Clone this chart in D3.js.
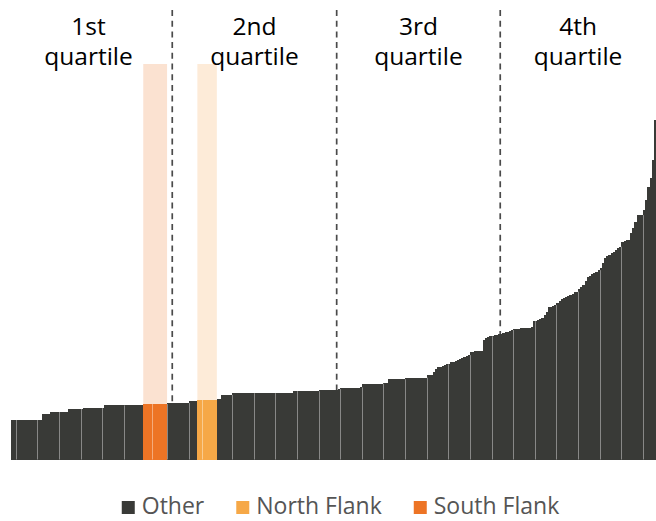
<!DOCTYPE html>
<html lang="en">
<head>
    <meta charset="UTF-8">
    <script src="https://d3js.org/d3.v7.min.js"></script>
    <title>Quartiles</title>
    <style>
        body { margin: 0; background: #fff; }
        svg { font-family: "Open Sans", "Noto Sans", sans-serif; display: block; }
    </style>
</head>
<body>
    <div id="chart"></div>
    <script>
        // sorted values, one per bar
        const values = [
            11.6, 11.6, 11.6, 11.6, 11.6, 11.6, 11.6, 11.6, 11.6, 11.6,
            11.6, 11.6, 11.6, 11.6, 13.5, 13.5, 13.5, 13.5, 14.0, 14.0,
            14.0, 14.0, 14.0, 14.0, 14.0, 14.0, 14.9, 14.9, 14.9, 14.9,
            14.9, 14.9, 14.9, 15.1, 15.1, 15.1, 15.1, 15.1, 15.1, 15.1,
            15.1, 15.1, 15.1, 15.9, 15.9, 15.9, 15.9, 15.9, 15.9, 15.9,
            15.9, 15.9, 15.9, 15.9, 15.9, 15.9, 15.9, 15.9, 15.9, 15.9,
            15.9, 16.3, 16.3, 16.3, 16.3, 16.3, 16.3, 16.3, 16.3, 16.3,
            16.3, 16.3, 16.6, 16.6, 16.6, 16.6, 16.6, 16.6, 16.6, 16.6,
            16.6, 16.6, 17.1, 17.1, 17.1, 17.1, 17.5, 17.5, 17.5, 17.5,
            17.5, 17.5, 17.5, 17.5, 17.5, 17.7, 17.7, 19.0, 19.0, 19.0,
            19.0, 19.0, 19.5, 19.5, 19.5, 19.5, 19.5, 19.5, 19.5, 19.5,
            19.5, 19.5, 19.5, 19.5, 19.5, 19.5, 19.5, 19.5, 19.5, 19.5,
            19.5, 19.5, 19.5, 19.5, 19.5, 19.5, 19.5, 19.5, 19.5, 19.5,
            20.1, 20.1, 20.1, 20.1, 20.1, 20.1, 20.1, 20.1, 20.1, 20.1,
            20.1, 20.1, 20.4, 20.4, 20.4, 20.4, 20.4, 20.4, 20.4, 20.4,
            20.4, 20.7, 21.0, 21.0, 21.0, 21.0, 21.0, 21.0, 21.0, 21.0,
            21.0, 21.2, 22.3, 22.3, 22.3, 22.3, 22.3, 22.3, 22.3, 22.3,
            22.3, 22.3, 22.6, 22.6, 23.6, 23.6, 23.6, 23.6, 23.6, 23.6,
            23.6, 23.6, 24.1, 24.1, 24.1, 24.1, 24.1, 24.1, 24.1, 24.1,
            24.1, 24.1, 24.8, 24.8, 24.8, 25.7, 26.6, 27.1, 27.3, 27.5,
            27.8, 28.0, 28.2, 28.7, 28.8, 29.0, 29.3, 29.6, 29.8, 30.1,
            30.4, 30.7, 31.5, 31.6, 31.8, 31.9, 32.0, 32.0, 35.1, 35.6,
            36.1, 36.2, 36.3, 36.5, 36.6, 36.8, 36.9, 37.2, 37.4, 37.5,
            37.8, 38.1, 38.4, 38.4, 38.5, 38.7, 38.8, 38.8, 38.8, 38.8,
            39.0, 40.7, 40.7, 41.0, 41.3, 41.6, 42.5, 43.4, 44.9, 45.0,
            45.1, 45.4, 45.9, 46.6, 47.1, 47.4, 47.8, 48.1, 48.4, 48.8,
            49.3, 49.4, 50.1, 50.7, 51.3, 52.5, 53.8, 54.1, 54.6, 54.8,
            55.1, 55.7, 56.2, 57.9, 59.3, 59.9, 60.1, 60.7, 61.1, 61.6,
            62.2, 62.6, 64.1, 64.3, 64.6, 64.6, 66.5, 68.0, 69.9, 71.9,
            71.9, 71.9, 73.4, 76.3, 80.2, 82.8, 88.1, 100
        ];

        // highlighted bars (indices into values)
        const southFlank = [61, 62, 63, 64, 65, 66, 67, 68, 69, 70, 71];
        const northFlank = [86, 87, 88, 89, 90, 91, 92, 93, 94];

        // quartile boundaries, in bar positions
        const quartileBreaks = [74.4, 150.4, 226.0];
        const quartileLabels = ["1st", "2nd", "3rd", "4th"];

        // faint separators, at these bar positions
        const gridIdx = [2, 12, 22, 32, 42, 52, 65, 72, 82, 88, 102, 112, 122, 132, 142,
            152, 162, 172, 182, 192, 202, 212, 222, 232, 242, 252, 262, 272, 282, 292];

        const legendItems = ["Other", "North Flank", "South Flank"];
        const colors = { "Other": "#393a37", "North Flank": "#f6a847", "South Flank": "#ed7425" };
        const paleColors = { "North Flank": "#fdebd8", "South Flank": "#fbe2d1" };

        const W = 656, H = 521;
        const baseY = 459.5;

        const svg = d3.select("#chart").append("svg")
            .attr("width", W).attr("height", H);

        const x = d3.scaleLinear().domain([0, values.length]).range([11.3, 656]);
        const y = d3.scaleLinear().domain([0, 100]).range([baseY, 119.5]);
        const step = x(1) - x(0);

        const groupOf = i => southFlank.includes(i) ? "South Flank"
            : northFlank.includes(i) ? "North Flank" : "Other";

        // pale highlight columns
        [["South Flank", southFlank], ["North Flank", northFlank]].forEach(([name, idx]) => {
            svg.append("rect")
                .attr("x", x(d3.min(idx)))
                .attr("width", x(d3.max(idx) + 1) - x(d3.min(idx)))
                .attr("y", 64)
                .attr("height", baseY - 64)
                .attr("fill", paleColors[name]);
        });

        // quartile dividers
        svg.selectAll(".divider")
            .data(quartileBreaks)
            .enter().append("line")
            .attr("class", "divider")
            .attr("x1", d => x(d)).attr("x2", d => x(d))
            .attr("y1", 10).attr("y2", baseY)
            .attr("stroke", "#4a4a4a")
            .attr("stroke-width", 1.7)
            .attr("stroke-dasharray", "6,4.7");

        // bars
        svg.selectAll(".bar")
            .data(values)
            .enter().append("rect")
            .attr("class", "bar")
            .attr("x", (d, i) => x(i))
            .attr("width", (d, i) => i === values.length - 1 ? step : step + 0.6)
            .attr("y", d => y(d))
            .attr("height", d => baseY - y(d))
            .attr("shape-rendering", "crispEdges")
            .attr("fill", (d, i) => colors[groupOf(i)]);

        // light separators inside the bars
        svg.selectAll(".sep")
            .data(gridIdx)
            .enter().append("line")
            .attr("class", "sep")
            .attr("x1", d => Math.round(x(d)) + 0.5).attr("x2", d => Math.round(x(d)) + 0.5)
            .attr("y1", d => y(Math.min(values[d], values[d - 1])))
            .attr("y2", baseY)
            .attr("stroke", "#fff")
            .attr("stroke-opacity", 0.4)
            .attr("stroke-width", 1);

        // quartile labels
        const edges = [-3, ...quartileBreaks, values.length];
        quartileLabels.forEach((lab, k) => {
            const cx = x((edges[k] + edges[k + 1]) / 2);
            const t = svg.append("text")
                .attr("x", cx)
                .attr("text-anchor", "middle")
                .attr("fill", "#000")
                .style("font-size", "24.5px")
                .style("font-weight", 500);
            t.append("tspan").attr("x", cx).attr("y", 35).text(lab);
            t.append("tspan").attr("x", cx).attr("y", 65).text("quartile");
        });

        // legend, centred under the chart
        const legend = svg.append("g");
        let lx = 0;
        const gap = 32;
        legendItems.forEach(name => {
            const g = legend.append("g").attr("transform", `translate(${lx},0)`);
            g.append("rect").attr("x", 0).attr("y", 501).attr("width", 13).attr("height", 13)
                .attr("fill", colors[name]);
            const t = g.append("text").attr("x", 20).attr("y", 514)
                .attr("fill", "#555")
                .style("font-size", "23px")
                .text(name);
            lx += 20 + t.node().getComputedTextLength() + gap;
        });
        const legW = lx - gap;
        legend.attr("transform", `translate(${340.5 - legW / 2},0)`);
    </script>
</body>
</html>
